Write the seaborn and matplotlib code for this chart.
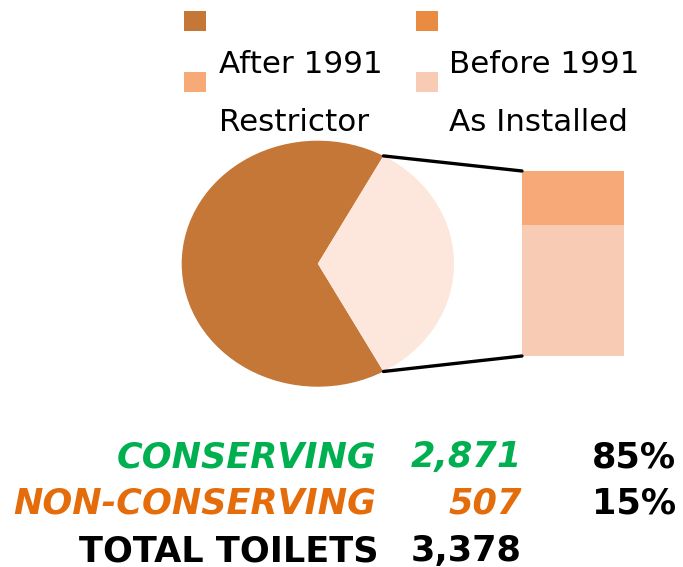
import matplotlib
matplotlib.use("Agg")
import matplotlib.pyplot as plt
import seaborn as sns
from matplotlib.patches import ConnectionPatch, Rectangle
import numpy as np

sns.set_theme(style="white")
plt.rcParams["font.family"] = ["DejaVu Sans"]

# --- data -------------------------------------------------------------------
pie_labels = ["After 1991", "Before 1991"]
pie_share = [66, 34]                      # % of all toilets
bar_labels = ["Restrictor", "As Installed"]
bar_share = [29, 71]                      # % of the "Before 1991" slice

legend_labels = ["After 1991", "Before 1991", "Restrictor", "As Installed"]
legend_colors = ["#C47736", "#E98C42", "#F7AA77", "#F8CBB4"]
pie_colors = ["#C47736", "#FDE7DD"]
bar_colors = ["#F7AA77", "#F8CBB4"]

table_labels = ["CONSERVING", "NON-CONSERVING", "TOTAL TOILETS"]
table_counts = [2871, 507, 3378]
table_pct = [85, 15, None]
table_colors = ["#00B050", "#E46C0A", "black"]
table_italic = [True, True, False]

W, H = 683, 567


def px(x, y):
    """pixel position (from top-left) -> figure fraction"""
    return x / W, 1 - y / H


fig = plt.figure(figsize=(W / 100, H / 100), dpi=100)

# --- pie ----------------------------------------------------------------------
ax_pie = fig.add_axes([181.7 / W, 1 - 386.7 / H, 272.3 / W, 246 / H])
start = pie_share[1] / 100 * 180
wedges, _ = ax_pie.pie(pie_share, colors=pie_colors, startangle=start,
                       wedgeprops={"linewidth": 0})
ax_pie.set_aspect("auto")
ax_pie.set_xlim(-1, 1)
ax_pie.set_ylim(-1, 1)
ax_pie.axis("off")

# --- stacked bar of the "Before 1991" slice ----------------------------------
ax_bar = fig.add_axes([522 / W, 1 - 356 / H, 102 / W, 185 / H])
cum = np.cumsum(bar_share[::-1])[::-1]     # top segment drawn full height
for val, col in zip(cum, bar_colors):
    sns.barplot(x=[pie_labels[1]], y=[val], color=col, width=1,
                saturation=1, linewidth=0, ax=ax_bar)
ax_bar.set_xlim(-0.5, 0.5)
ax_bar.set_ylim(0, sum(bar_share))
ax_bar.axis("off")

# --- connector lines ----------------------------------------------------------
w = wedges[1]
for theta, ybar in [(w.theta2, sum(bar_share)), (w.theta1, 0)]:
    t = np.deg2rad(theta)
    con = ConnectionPatch(xyA=(np.cos(t), np.sin(t)), coordsA=ax_pie.transData,
                          xyB=(-0.5, ybar), coordsB=ax_bar.transData,
                          color="black", linewidth=2.4)
    fig.add_artist(con)

# --- legend (markers sit one line above their labels) -------------------------
leg_pos = [(184, 11, 218.7, 73), (416, 11, 449.3, 73),
           (184, 72, 218.7, 131), (416, 72, 449.3, 131)]
for (sx, sy, tx, ty), lab, col in zip(leg_pos, legend_labels, legend_colors):
    x0, y0 = px(sx, sy + 20)
    fig.add_artist(Rectangle((x0, y0), 22 / W, 20 / H, transform=fig.transFigure,
                             facecolor=col, edgecolor="none"))
    fig.text(*px(tx, ty), lab, fontsize=22.3, color="black",
             ha="left", va="baseline")

# --- summary table ------------------------------------------------------------
baselines = [467, 513, 561]
for lab, n, p, col, it, yb in zip(table_labels, table_counts, table_pct,
                                  table_colors, table_italic, baselines):
    style = "italic" if it else "normal"
    fig.text(*px(376 if it else 379, yb), lab, fontsize=25.3, fontweight="bold",
             fontstyle=style, color=col, ha="right", va="baseline")
    fig.text(*px(522, yb), f"{n:,}", fontsize=25.3, fontweight="bold",
             fontstyle=style, color=col, ha="right", va="baseline")
    if p is not None:
        fig.text(*px(676, yb), f"{p}%", fontsize=25.3, fontweight="bold",
                 color="black", ha="right", va="baseline")

fig.savefig("out.png", dpi=100, facecolor="white")
